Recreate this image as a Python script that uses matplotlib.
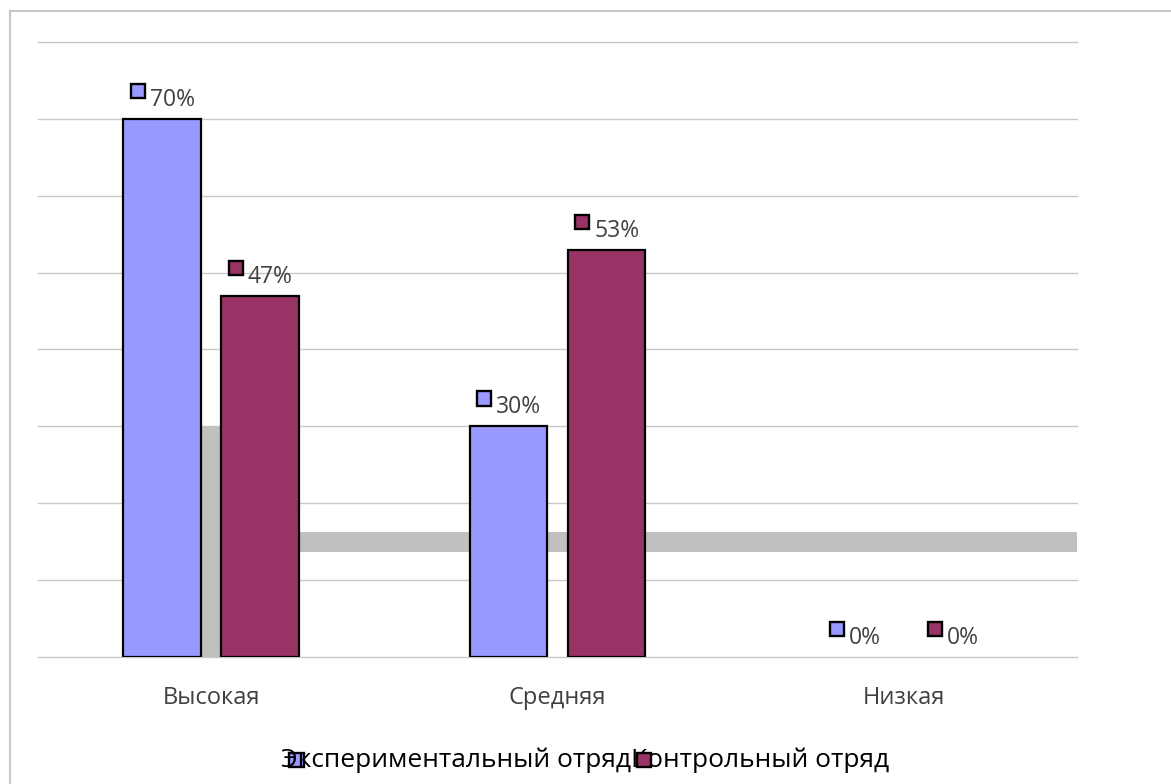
import matplotlib
matplotlib.use("Agg")
import matplotlib.pyplot as plt
from matplotlib.lines import Line2D
from matplotlib.patches import Rectangle
from matplotlib.offsetbox import (AnnotationBbox, DrawingArea, HPacker,
                                  TextArea)

plt.rcParams['font.family'] = ['Open Sans', 'DejaVu Sans']

categories = ['Высокая', 'Средняя', 'Низкая']
series_names = ['Экспериментальный отряд', 'Контрольный отряд']
experimental = [0.70, 0.30, 0.00]
control = [0.47, 0.53, 0.00]
series_colors = ['#9999ff', '#993366']
y_ticks = [0.0, 0.1, 0.2, 0.3, 0.4, 0.5, 0.6, 0.7, 0.8]

BAR_W = 0.225
OFFSET = 0.1415
LABEL_SIZE = 16.5
KEY = 12.0


def _square(color, lift=0.0, size=KEY):
    area = DrawingArea(size, size + lift, 0, 0)
    area.add_artist(Rectangle((0.8, lift + 0.8), size - 1.6, size - 1.6,
                              facecolor=color, edgecolor='black', lw=1.7))
    return area


def _value_label(ax, x, y, color):
    box = HPacker(children=[_square(color, lift=9.0),
                            TextArea('{:.0f}%'.format(y * 100),
                                     textprops=dict(color='#404040',
                                                    fontsize=LABEL_SIZE))],
                  align='bottom', pad=0, sep=2.5)
    ab = AnnotationBbox(box, (x, y), xybox=(0, 5), xycoords='data',
                        boxcoords='offset points', box_alignment=(0.5, 0),
                        frameon=False, pad=0)
    ax.add_artist(ab)


fig = plt.figure(figsize=(11.71, 7.84), dpi=100)

## Outer frame: only its top and left edge show in the picture
fx, fy = 9.5 / 1171, 1 - 10.5 / 784
fig.add_artist(Line2D([fx, 1], [fy, fy], transform=fig.transFigure,
                      color='#c8c8c8', lw=1.5))
fig.add_artist(Line2D([fx, fx], [0, fy], transform=fig.transFigure,
                      color='#c8c8c8', lw=1.5))

ax = fig.add_axes((38 / 1171, 127 / 784, 1039 / 1171, 615 / 784))
ax.set_xlim(-0.5, 2.5)
ax.set_ylim(0, 0.8)
for side in ax.spines.values():
    side.set_visible(False)
ax.set_yticks([])
for yt in y_ticks:
    ax.axhline(yt, color='#c8c8c8', lw=1.0, zorder=1, clip_on=False)

## Grey leftovers of the chart wall / floor
ax.add_patch(Rectangle((-OFFSET + BAR_W / 2, 0), 2 * OFFSET - BAR_W, 0.30,
                       facecolor='#c0c0c0', edgecolor='none', zorder=2))
ax.add_patch(Rectangle((OFFSET + BAR_W / 2, 0.1365), 2.5, 0.026,
                       facecolor='#c0c0c0', edgecolor='none', zorder=2))

xs = list(range(len(categories)))
for values, shift, color in ((experimental, -OFFSET, series_colors[0]),
                             (control, OFFSET, series_colors[1])):
    pos = [x + shift for x in xs]
    widths = [1.6 if v > 0 else 0 for v in values]
    ax.bar(pos, values, width=BAR_W, color=color, edgecolor='black',
           linewidth=widths, zorder=3)
    for px, v in zip(pos, values):
        _value_label(ax, px, v, color)

ax.set_xticks(xs, categories)
ax.tick_params(axis='x', length=0, pad=21, labelsize=17,
               labelcolor='#404040')

## Legend drawn by hand: the keys sit on top of the first letters
LEG_SIZE = 19
t1 = fig.text(0.5, 24 / 784, series_names[0], fontsize=LEG_SIZE,
              color='black', va='center', ha='left')
t2 = ax.annotate(series_names[1], xy=(1, 0.5), xycoords=t1, va='center',
                 ha='left', fontsize=LEG_SIZE, color='black',
                 annotation_clip=False)
for txt, color, dx in ((t1, series_colors[0], 5), (t2, series_colors[1], 3)):
    key = AnnotationBbox(_square(color), (0, 0.5), xycoords=txt,
                         xybox=(dx, 0), boxcoords='offset points',
                         box_alignment=(0, 0.5), frameon=False, pad=0,
                         annotation_clip=False)
    fig.add_artist(key)

fig.canvas.draw()
r = fig.canvas.get_renderer()
e1 = t1.get_window_extent(r)
e2 = t2.get_window_extent(r)
width = e2.x1 - e1.x0
t1.set_x((fig.bbox.width / 2 - width / 2) / fig.bbox.width)

fig.savefig('out.png', dpi=100, facecolor='white')
